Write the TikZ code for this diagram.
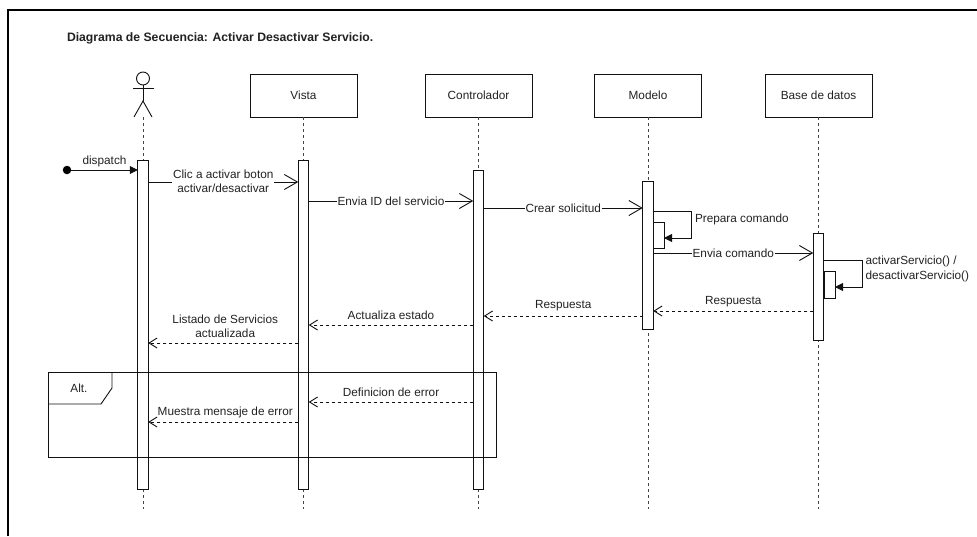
\documentclass[tikz,border=0pt]{standalone}
\usepackage{fontspec}
\setmainfont{Liberation Sans}
\usetikzlibrary{arrows.meta}
\definecolor{tx}{HTML}{222222}
\definecolor{ln}{HTML}{111111}
\definecolor{lf}{HTML}{444444}
\begin{document}
\begin{tikzpicture}[x=1pt,y=-1pt,line width=0.9pt,
  every node/.style={inner sep=0pt,outer sep=0pt,text=tx,font=\fontsize{11.8}{14.5}\selectfont},
  head/.style={draw=ln,fill=white,minimum width=107pt,minimum height=43pt},
  actbox/.style={draw=ln,fill=white,minimum width=10.5pt},
  life/.style={draw=lf,dash pattern=on 3pt off 3pt},
  call/.style={draw=ln,-{Straight Barb[length=13pt,width=15pt,line width=0.9pt]}},
  ret/.style={draw=ln,dash pattern=on 3pt off 3pt,-{Straight Barb[length=8pt,width=10pt,line width=0.9pt]}},
  sync/.style={draw=ln,-{Triangle[length=8pt,width=8pt]}},
  onlab/.style={fill=white,inner xsep=1pt,inner ysep=1pt,align=center},
  ablab/.style={align=center}
]
\useasboundingbox (0,0) rectangle (977,536);
% outer frame
\draw[line width=1.3pt,black] (8,536) -- (8,10) -- (977,10);
% title
\node[anchor=west,font=\fontsize{12.2}{14}\selectfont\bfseries] (title) at (67,38) {Diagrama de Secuencia: Activar Desactivar Servicio.};
% actor
\node[draw=ln,circle,minimum size=13pt] (actor) at (143,78.5) {};
\coordinate (hip) at (143,101);
\coordinate (actfoot) at (143,117);
\draw[ln] (actor.south) -- (hip);
\draw[ln] (133,88) -- (154,88);
\draw[ln] (134,117) -- (hip) -- (152,117);
% heads
\node[head] (vista) at (303.5,95.5) {Vista};
\node[head] (ctrl) at (478.5,95.5) {Controlador};
\node[head] (mod) at (648,95.5) {Modelo};
\node[head] (bd) at (818.5,95.5) {Base de datos};
% lifeline ends
\coordinate (actEnd) at (143,509);
\coordinate (vistaEnd) at (303.5,509);
\coordinate (ctrlEnd) at (478.5,509);
\coordinate (modEnd) at (648,509);
\coordinate (bdEnd) at (818.5,509);
\draw[life] (actfoot) -- (actEnd);
\draw[life] (vista.south) -- (vistaEnd);
\draw[life] (ctrl.south) -- (ctrlEnd);
\draw[life] (mod.south) -- (modEnd);
\draw[life] (bd.south) -- (bdEnd);
% activations
\node[actbox,minimum height=329pt] (actA) at (143,324.5) {};
\node[actbox,minimum height=329pt] (vistaA) at (303.5,324.5) {};
\node[actbox,minimum height=319pt] (ctrlA) at (478.5,329.5) {};
\node[actbox,minimum height=148pt] (modA) at (648,255) {};
\node[actbox,minimum height=107pt] (bdA) at (818.5,286.5) {};
\node[actbox,minimum width=11pt,minimum height=26pt] (modN) at (658.5,235) {};
\node[actbox,minimum width=11pt,minimum height=27pt] (bdN) at (829.5,284.5) {};
% dispatch
\node[circle,fill=black,minimum size=8.5pt] (start) at (67,170) {};
\draw[ln,-{Triangle[length=8pt,width=8pt]}] (start) -- (actA.west |- 0,170) node[midway,yshift=9pt] {dispatch};
% calls
\draw[call] (actA.east |- 0,182) -- (vistaA.west |- 0,182) node[midway,onlab,yshift=0.5pt] {Clic a activar boton\\activar/desactivar};
\draw[call] (vistaA.east |- 0,201) -- (ctrlA.west |- 0,201) node[midway,onlab] {Envia ID del servicio};
\draw[call] (ctrlA.east |- 0,208) -- (modA.west |- 0,208) node[midway,onlab] {Crear solicitud};
\draw[sync] (modA.east |- 0,211) -- (691,211) -- (691,238) -- (modN.east |- 0,238);
\node[anchor=west] (prep) at (695,219.5) {Prepara comando};
\draw[call] (modA.east |- 0,253) -- (bdA.west |- 0,253) node[midway,onlab] {Envia comando};
\draw[sync] (bdA.east |- 0,260) -- (862,260) -- (862,287) -- (bdN.east |- 0,287);
\node[anchor=west,align=left] (bdlab) at (865.5,269) {activarServicio() /\\desactivarServicio()};
% returns
\draw[ret] (bdA.west |- 0,311) -- (modA.east |- 0,311) node[midway,yshift=9.5pt] {Respuesta};
\draw[ret] (modA.west |- 0,316) -- (ctrlA.east |- 0,316) node[midway,yshift=10pt] {Respuesta};
\draw[ret] (ctrlA.west |- 0,325) -- (vistaA.east |- 0,325) node[midway,yshift=10pt] {Actualiza estado};
\draw[ret] (vistaA.west |- 0,343) -- (actA.east |- 0,343) node[midway,yshift=16.5pt,ablab,xshift=2pt] {Listado de Servicios\\actualizada};
% alt frame
\draw[ln] (48,372) rectangle (496,457);
\draw[ln] (48,404) -- (101,404) -- (112,388) -- (112,372);
\node (alt) at (79,388) {Alt.};
\draw[ret] (ctrlA.west |- 0,402) -- (vistaA.east |- 0,402) node[midway,yshift=10pt] {Definicion de error};
\draw[ret] (vistaA.west |- 0,422) -- (actA.east |- 0,422) node[midway,yshift=10pt,xshift=2pt] {Muestra mensaje de error};
\end{tikzpicture}
\end{document}
